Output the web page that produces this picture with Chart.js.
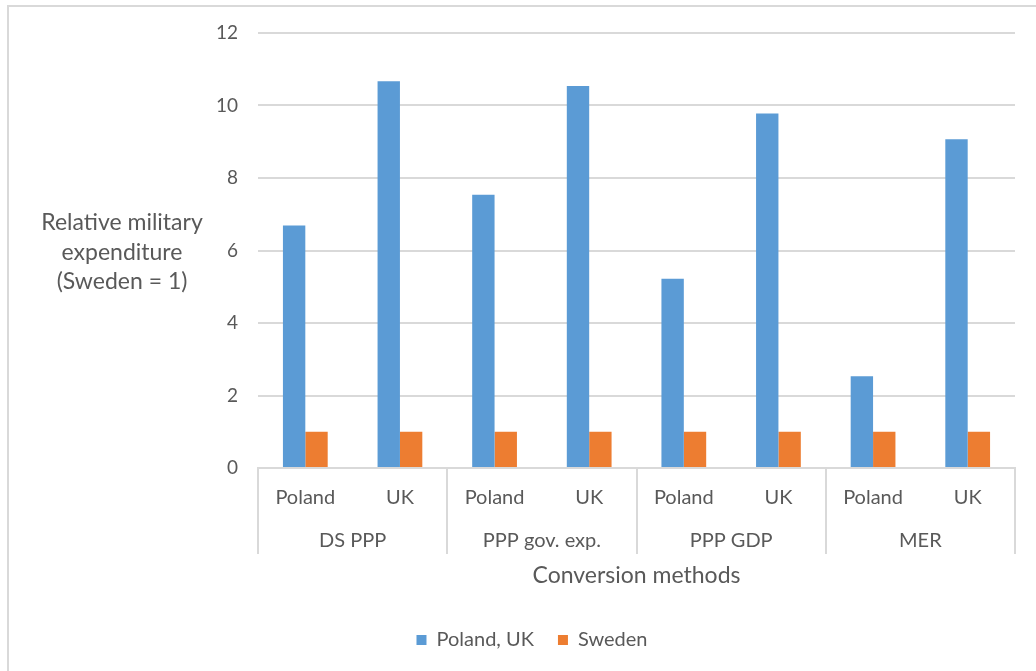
<!DOCTYPE html>
<html>
<head>
<meta charset="utf-8">
<title>Relative military expenditure by conversion method</title>
<script src="https://cdn.jsdelivr.net/npm/chart.js@4.4.1/dist/chart.umd.min.js"></script>
<style>
  html, body { margin: 0; padding: 0; background: #ffffff; overflow: hidden; width: 1036px; height: 671px; }
  #frame { position: absolute; left: 7px; top: 5px; border: 2px solid #d9d9d9; width: 1046px; height: 664px; background: #fff; }
  canvas { display: block; }
</style>
</head>
<body>
<div id="frame"><canvas id="chart" width="1046" height="664"></canvas></div>
<script>
// Country labels under each bar pair, and the conversion method each pair belongs to
const countries = ['Poland', 'UK', 'Poland', 'UK', 'Poland', 'UK', 'Poland', 'UK'];
const methods = ['DS PPP', 'PPP gov. exp.', 'PPP GDP', 'MER'];

// Military expenditure relative to Sweden (Sweden = 1)
const polandUkValues = [6.69, 10.67, 7.54, 10.54, 5.22, 9.78, 2.53, 9.07];
const swedenValues = [1, 1, 1, 1, 1, 1, 1, 1];

// Value axis range
const yMin = 0;
const yMax = 12;
const yStep = 2;

const yTitleLines = ['Relative military', 'expenditure', '(Sweden = 1)'];
const xTitle = 'Conversion methods';

const TEXT = '#595959';
const GRID = '#d9d9d9';
const FONT = 'Lato, "Open Sans", sans-serif';

// Horizontal, multi-line value-axis title drawn to the left of the tick labels
const sideTitle = {
  id: 'sideTitle',
  afterDraw(chart) {
    const ctx = chart.ctx;
    const cx = 113;
    const y0 = 216;
    const lh = 29.5;
    ctx.save();
    ctx.font = '23px ' + FONT;
    ctx.fillStyle = TEXT;
    ctx.textAlign = 'center';
    ctx.textBaseline = 'middle';
    yTitleLines.forEach((line, i) => ctx.fillText(line, cx, y0 + i * lh));
    ctx.restore();
  }
};

new Chart(document.getElementById('chart'), {
  type: 'bar',
  data: {
    labels: countries,
    datasets: [
      {
        label: 'Poland, UK',
        data: polandUkValues,
        backgroundColor: '#5b9bd5',
        categoryPercentage: 0.473,
        barPercentage: 1.0
      },
      {
        label: 'Sweden',
        data: swedenValues,
        backgroundColor: '#ed7d31',
        categoryPercentage: 0.473,
        barPercentage: 1.0
      }
    ]
  },
  options: {
    responsive: false,
    animation: false,
    devicePixelRatio: 1,
    layout: { padding: { top: 26, right: 40, left: 40, bottom: 11 } },
    plugins: {
      tooltip: { enabled: false },
      title: { display: false },
      legend: {
        position: 'bottom',
        labels: {
          boxWidth: 10,
          boxHeight: 10,
          padding: 24,
          color: TEXT,
          font: { family: FONT, size: 20 }
        }
      }
    },
    scales: {
      y: {
        min: yMin,
        max: yMax,
        ticks: { stepSize: yStep, color: TEXT, padding: 8, font: { family: FONT, size: 19 } },
        grid: { color: GRID, lineWidth: 2, drawTicks: true, tickLength: 12, tickColor: 'rgba(0,0,0,0)' },
        border: { display: false },
        afterFit: (scale) => { scale.width = 209; }
      },
      x: {
        position: 'bottom',
        weight: 0,
        offset: true,
        grid: {
          offset: true,
          drawOnChartArea: false,
          drawTicks: true,
          tickLength: 86,
          lineWidth: 2,
          color: (c) => (c.type !== 'tick' || c.index % 2 === 0) ? GRID : 'rgba(0,0,0,0)'
        },
        border: { display: true, color: GRID, width: 2 },
        ticks: { color: TEXT, padding: -68, maxRotation: 0, autoSkip: false, font: { family: FONT, size: 20 } },
        afterFit: (scale) => { scale.height = 58; }
      },
      x2: {
        type: 'category',
        labels: methods,
        position: 'bottom',
        weight: 1,
        offset: true,
        grid: { display: false, drawTicks: false },
        border: { display: false },
        ticks: { color: TEXT, padding: 3, maxRotation: 0, autoSkip: false, font: { family: FONT, size: 20 } },
        title: {
          display: true,
          text: xTitle,
          color: TEXT,
          font: { family: FONT, size: 23 },
          padding: { top: 0, bottom: 17 }
        },
        afterFit: (scale) => { scale.height = 80; }
      }
    }
  },
  plugins: [sideTitle]
});
</script>
</body>
</html>
